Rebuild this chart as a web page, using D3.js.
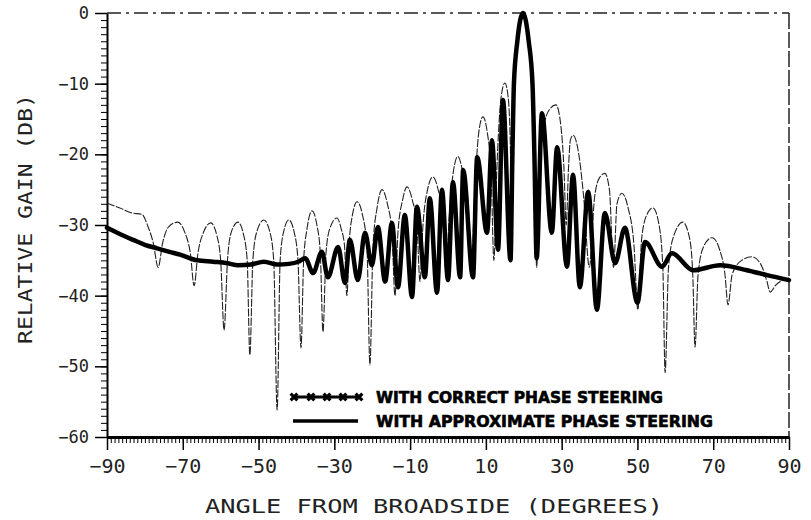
<!DOCTYPE html>
<html>
<head>
<meta charset="utf-8">
<title>Relative gain</title>
<script src="https://d3js.org/d3.v7.min.js"></script>
<style>
  body { margin: 0; background: #fff; }
  .tick text { font-family: "DejaVu Sans Mono", monospace; fill: #222; }
  .thin { fill: none; stroke: #222; stroke-width: 1.1; stroke-dasharray: 8,1.5; }
  .thick { fill: none; stroke: #000; stroke-width: 4.5; stroke-linejoin: round; stroke-linecap: round; }
</style>
</head>
<body>
<script>
var xTicks = [-90, -70, -50, -30, -10, 10, 30, 50, 70, 90];
var yTicks = [0, -10, -20, -30, -40, -50, -60];
var legendLabels = ["WITH CORRECT PHASE STEERING", "WITH APPROXIMATE PHASE STEERING"];

// correct phase steering (thin line)
var correctAngle = [-90, -86.6, -83.4, -80.8, -79.2, -77.8, -76.5, -75.3, -73.8, -71.3,
  -69.5, -68.0, -67.0, -66.0, -64.5, -62.6, -61.0, -60.0, -59.1, -58.2, -57.2, -55.4,
  -53.9, -53.0, -52.3, -51.5, -50.5, -48.6, -47.0, -46.0, -45.1, -44.3, -43.4, -42.0,
  -40.6, -39.6, -38.8, -38.1, -37.2, -35.9, -34.6, -33.7, -33.0, -32.2, -31.2, -29.3,
  -28.2, -27.3, -26.7, -26.0, -25.2, -24.0, -22.6, -21.4, -20.6, -19.8, -18.7, -17.4,
  -16.0, -14.8, -14.0, -13.2, -12.0, -10.8, -9.4, -8.2, -7.4, -6.6, -5.4, -4.0,
  -2.6, -1.3, -0.5, 0.3, 1.4, 2.6, 3.9, 5.3, 6.1, 7.0, 8.1, 9.2,
  10.4, 11.4, 12.1, 12.9, 14.0, 15.0, 15.9, 16.5, 16.8, 17.0, 17.4, 18.3,
  19.8, 21.3, 22.3, 22.8, 23.4, 24.2, 25.5, 27.0, 28.5, 29.8, 30.6, 31.2,
  31.8, 32.3, 33.0, 34.2, 35.8, 37.3, 38.7, 40.0, 41.4, 42.6, 43.7, 44.6,
  45.9, 47.5, 49.1, 50.1, 51.1, 52.5, 54.1, 55.7, 56.7, 57.3, 58.2, 59.6,
  62.0, 63.8, 64.6, 65.2, 66.0, 67.5, 69.7, 71.7, 73.1, 73.9, 75.0, 77.5,
  80.2, 82.5, 84.2, 85.0, 86.5, 90];
var correctGain = [-26.9, -27.6, -28.3, -28.5, -30.2, -32.5, -36, -32.5, -30.3, -29.6,
  -31, -34, -38.6, -34, -31, -29.7, -31.5, -35, -44.9, -35, -31, -29.6,
  -31.5, -35, -48.4, -35, -31, -29.3, -31, -35, -56.2, -35, -31, -29.3,
  -31, -35, -47.4, -35, -30.5, -28, -30, -34, -45.1, -34, -30.5, -29,
  -30.5, -33, -40, -32, -28.5, -26.7, -28.5, -33, -49.8, -33, -27.5, -25,
  -27, -31, -40, -31, -26.5, -24.6, -26.5, -30, -38, -30, -25, -23.2,
  -25, -29, -37, -29, -22.5, -20.3, -22.5, -27, -37, -26, -17, -14.7,
  -17, -23, -35, -22, -12, -9.9, -12, -20, -35, -20, -10, -4,
  0, -4, -10, -20, -36, -22, -15.5, -13.5, -13, -16, -22, -30,
  -22, -18, -17.3, -19, -26, -36, -26, -23.3, -22.7, -25, -36, -27,
  -25.5, -27.5, -33, -42, -32, -28.5, -27.6, -30, -36, -50.9, -36, -31.5,
  -29.6, -32, -37, -47.3, -37, -33, -31.8, -33.5, -37, -41.3, -37, -35,
  -34.5, -35.5, -38, -39.5, -38.5, -37.5];

// approximate phase steering (thick line)
var approxAngle = [-90, -86.5, -83.1, -80.0, -76.8, -73.5, -70.7, -66.2, -62.0, -58.3,
  -55.4, -52.0, -48.6, -45.0, -42.0, -39.5, -37.7, -35.6, -33.3, -31.7, -29.0, -27.2,
  -25.9, -23.8, -21.9, -20.1, -18.5, -16.6, -14.8, -13.2, -11.4, -9.5, -8.2, -6.1,
  -4.8, -2.9, -1.6, 0.0, 1.3, 3.2, 4.0, 6.6, 7.7, 10.3, 11.6, 13.2,
  14.5, 16.5, 17.0, 17.4, 18.3, 19.8, 21.3, 22.3, 22.8, 23.4, 24.8, 27.4,
  28.8, 31.4, 33.0, 34.8, 37.0, 39.3, 41.4, 44.1, 46.7, 50.0, 52.0, 56.5,
  59.1, 64.7, 71.8, 78.9, 84.2, 90];
var approxGain = [-30.4, -31.3, -32.1, -32.8, -33.3, -33.8, -34.2, -35, -35.2, -35.4,
  -35.7, -35.6, -35.2, -35.6, -35.5, -35.2, -34.7, -36.8, -33.8, -37.4, -33.1, -38.2,
  -32.1, -37.8, -31.1, -35.7, -30.3, -38, -29.7, -38.8, -28.6, -40.2, -27.4, -37.4,
  -26.2, -39.6, -25, -37.8, -23.9, -37.4, -22.2, -37.4, -20.4, -31.1, -18, -33.5,
  -12.3, -35, -20, -10, -4, 0, -4, -10, -20, -34.7, -14.2, -31.1,
  -19, -35.9, -22.9, -38.8, -25.3, -42, -28.3, -35.4, -30.4, -41, -32.4, -35.9,
  -34, -36.4, -35.7, -36.4, -37.1, -37.8];

var svgWidth = 811, svgHeight = 520,
    margin = {top: 13, right: 22, bottom: 83, left: 107},
    width = svgWidth - margin.left - margin.right,
    height = svgHeight - margin.top - margin.bottom;

var xScale = d3.scaleLinear().domain([-90, 90]).range([0, width]);
var yScale = d3.scaleLinear().domain([-60, 0]).range([height, 0]);

var svg = d3.select("body").append("svg")
    .attr("width", svgWidth)
    .attr("height", svgHeight)
    .append("g")
    .attr("transform", "translate(" + margin.left + "," + margin.top + ")");

// minor ticks
svg.append("g")
    .attr("transform", "translate(0," + height + ")")
    .call(d3.axisBottom(xScale).tickValues(d3.range(-90, 91, 1)).tickSize(6).tickSizeOuter(0).tickFormat(""))
    .call(g => g.select(".domain").remove());
svg.append("g")
    .call(d3.axisLeft(yScale).tickValues(d3.range(-60, 1, 1)).tickSize(6).tickSizeOuter(0).tickFormat(""))
    .call(g => g.select(".domain").remove());

// major ticks + labels
var xAxis = svg.append("g")
    .attr("transform", "translate(0," + height + ")")
    .call(d3.axisBottom(xScale).tickValues(xTicks).tickSize(13).tickPadding(9).tickSizeOuter(0));
xAxis.select(".domain").attr("stroke-width", 3);
xAxis.selectAll(".tick line").attr("stroke-width", 1.5);
xAxis.selectAll(".tick text").style("font-size", "20px");

var yAxis = svg.append("g")
    .call(d3.axisLeft(yScale).tickValues(yTicks).tickSize(12).tickPadding(6).tickSizeOuter(0));
yAxis.select(".domain").attr("stroke-width", 2);
yAxis.selectAll(".tick line").attr("stroke-width", 1.5);
yAxis.selectAll(".tick text").style("font-size", "17px");

// top and right frame
svg.append("line")
    .attr("x1", 0).attr("x2", width).attr("y1", 0).attr("y2", 0)
    .attr("stroke", "#222").attr("stroke-width", 1.5)
    .attr("stroke-dasharray", "14,5,3,5");
svg.append("line")
    .attr("x1", width).attr("x2", width).attr("y1", 0).attr("y2", height)
    .attr("stroke", "#222").attr("stroke-width", 1.5)
    .attr("stroke-dasharray", "16,3");

var line = d3.line()
    .x(d => xScale(d[0]))
    .y(d => yScale(d[1]))
    .curve(d3.curveMonotoneX);

svg.append("path")
    .datum(d3.zip(correctAngle, correctGain))
    .attr("class", "thin")
    .attr("d", line);

svg.append("path")
    .datum(d3.zip(approxAngle, approxGain))
    .attr("class", "thick")
    .attr("d", line);

// legend
var legend = svg.append("g").attr("transform", "translate(" + (292 - margin.left) + "," + (397 - margin.top) + ")");
legend.append("line")
    .attr("x1", 2).attr("x2", 68).attr("y1", 0).attr("y2", 0)
    .attr("stroke", "#000").attr("stroke-width", 3);
legend.selectAll(".mk")
    .data([2, 19, 35, 51, 67]).enter().append("path")
    .attr("class", "mk")
    .attr("d", d3.symbol().type(d3.symbolCross).size(50))
    .attr("transform", d => "translate(" + d + ",0) rotate(45)")
    .attr("fill", "#000");
legend.append("line")
    .attr("x1", 1).attr("x2", 66).attr("y1", 24).attr("y2", 24)
    .attr("stroke", "#000").attr("stroke-width", 3.5);
legend.selectAll(".lt")
    .data(legendLabels).enter().append("text")
    .attr("class", "lt")
    .attr("x", 84)
    .attr("y", (d, i) => 6 + i * 24)
    .attr("textLength", (d, i) => i === 0 ? 287 : 337)
    .attr("lengthAdjust", "spacingAndGlyphs")
    .style("font-family", "'DejaVu Sans', sans-serif")
    .style("font-weight", "900")
    .style("font-size", "15px")
    .style("stroke", "#000")
    .style("stroke-width", 0.6)
    .text(d => d);

// axis titles
svg.append("text")
    .attr("x", 100 - margin.left + 334)
    .attr("y", height + 76)
    .attr("text-anchor", "middle")
    .attr("textLength", 458)
    .attr("lengthAdjust", "spacingAndGlyphs")
    .style("font-family", "'DejaVu Sans Mono', monospace")
    .style("font-size", "20px")
    .style("fill", "#222")
    .text("ANGLE FROM BROADSIDE (DEGREES)");

svg.append("text")
    .attr("transform", "translate(" + (32 - margin.left) + "," + (219 - margin.top) + ") rotate(-90)")
    .attr("text-anchor", "middle")
    .attr("textLength", 250)
    .attr("lengthAdjust", "spacingAndGlyphs")
    .style("font-family", "'DejaVu Sans Mono', monospace")
    .style("font-size", "20px")
    .style("fill", "#222")
    .text("RELATIVE GAIN (DB)");
</script>
</body>
</html>
